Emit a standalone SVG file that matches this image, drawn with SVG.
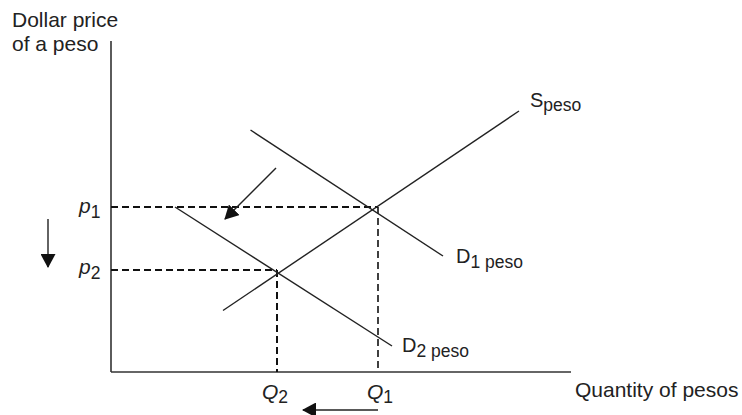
<svg xmlns="http://www.w3.org/2000/svg" width="742" height="415" viewBox="0 0 742 415">
<style>
text{font-family:"Liberation Sans",Arial,sans-serif;fill:#222;font-size:20px}
.title{font-size:21px}
.sub{font-size:17.5px}
.it{font-style:italic}
.curve{stroke:#222;stroke-width:1.4;fill:none}
.dash{stroke:#111;stroke-width:2;stroke-dasharray:7 4;fill:none}
.axis{stroke:#333;stroke-width:1.6;fill:none}
.arr{stroke:#222;stroke-width:1.4;fill:none}
</style>
<defs>
<marker id="ah" viewBox="0 0 14 15" refX="13" refY="7.5" markerWidth="14" markerHeight="15" markerUnits="userSpaceOnUse" orient="auto">
<path d="M0,0 L14,7.5 L0,15 Z" fill="#111"/>
</marker>
</defs>
<g id="axes">
<line class="axis" x1="111" y1="41" x2="111" y2="372"/>
<line class="axis" x1="111" y1="372" x2="571" y2="372"/>
<text class="title" x="12" y="27">Dollar price</text>
<text class="title" x="12" y="51">of a peso</text>
<text class="title" x="575" y="397">Quantity of pesos</text>
</g>
<g id="connectors">
<line class="dash" x1="111" y1="207" x2="378" y2="207"/>
<line class="dash" x1="111" y1="270" x2="277" y2="270"/>
<line class="dash" x1="378" y1="207" x2="378" y2="372" style="stroke-width:1.6"/>
<line class="dash" x1="277" y1="270" x2="277" y2="372"/>
<line class="arr" x1="276" y1="168" x2="225" y2="219" marker-end="url(#ah)"/>
<line class="arr" x1="48" y1="219" x2="48" y2="267" marker-end="url(#ah)"/>
<line class="arr" x1="378" y1="410" x2="303" y2="410" marker-end="url(#ah)"/>
</g>
<g id="supply">
<line class="curve" x1="223" y1="310.5" x2="519" y2="111"/>
<text x="530" y="107">S<tspan class="sub" dy="4">peso</tspan></text>
</g>
<g id="demand1">
<line class="curve" x1="250.5" y1="130" x2="443" y2="256"/>
<text x="456" y="263">D<tspan class="sub" dy="5">1 peso</tspan></text>
</g>
<g id="demand2">
<line class="curve" x1="175" y1="207" x2="392" y2="346"/>
<text x="402" y="352">D<tspan class="sub" dy="5">2 peso</tspan></text>
</g>
<g id="labels">
<text class="it title" x="79" y="213">p<tspan class="sub" style="font-style:normal" dy="5">1</tspan></text>
<text class="it title" x="79" y="274">p<tspan class="sub" style="font-style:normal" dy="5">2</tspan></text>
<text class="it title" x="262" y="399">Q<tspan class="sub" style="font-style:normal" dy="4">2</tspan></text>
<text class="it title" x="367" y="399">Q<tspan class="sub" style="font-style:normal" dy="4">1</tspan></text>
</g>
</svg>
